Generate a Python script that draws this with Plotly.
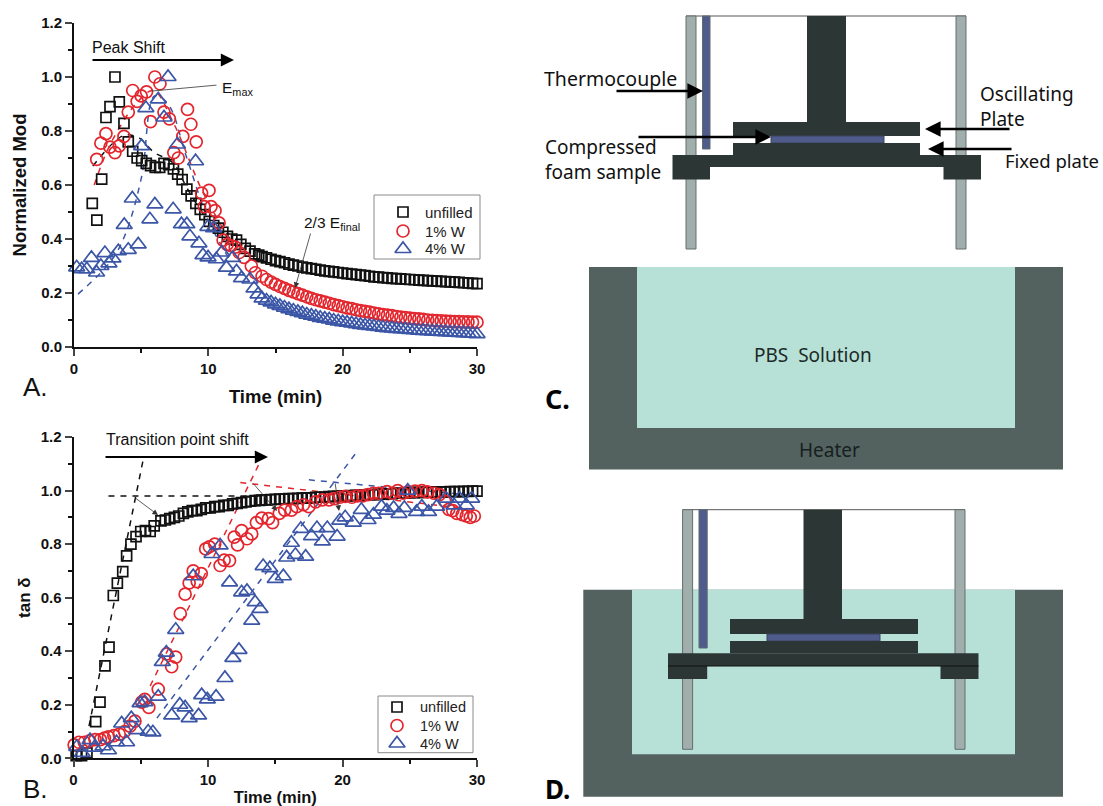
import plotly.graph_objects as go

# ---------- Shared late-time axis (min) ----------
time_late = [14.0,14.33,14.67,15.0,15.33,15.67,16.0,16.33,16.67,17.0,17.33,17.67,18.0,18.33,18.67,
             19.0,19.33,19.67,20.0,20.33,20.67,21.0,21.33,21.67,22.0,22.33,22.67,23.0,23.33,23.67,
             24.0,24.33,24.67,25.0,25.33,25.67,26.0,26.33,26.67,27.0,27.33,27.67,28.0,28.33,28.67,
             29.0,29.33,29.67,30.0]

# ---------- Panel A: normalized modulus ----------
a_unfilled_t = [1.36,1.7,2.06,2.38,2.68,3.05,3.37,3.72,4.04,4.37,4.7,5.04,5.38,5.7,6.05,6.38,6.7,7.05,7.4,7.72,
                8.05,8.4,8.72,9.07,9.4,9.74,10.07,10.4,10.75,11.08,11.42,11.75,12.1,12.42,12.75,13.1,13.45,13.75]
a_unfilled_y = [.532,.47,.622,.85,.89,1.0,.908,.828,.76,.725,.70,.69,.68,.672,.665,.665,.68,.675,.66,.64,
                .62,.585,.56,.532,.51,.49,.465,.45,.44,.425,.41,.40,.396,.38,.365,.355,.345,.34]
a_unfilled_late = [.335,.33,.325,.32,.316,.312,.307,.303,.30,.296,.293,.29,.288,.285,.282,.28,.278,.276,.274,.272,.27,
                   .268,.266,.264,.262,.26,.259,.257,.256,.254,.253,.252,.251,.25,.249,.248,.247,.246,.245,.244,.243,.242,
                   .241,.24,.239,.238,.237,.236,.235]

a_w1_t = [1.69,2.0,2.38,2.68,3.05,3.37,3.72,4.04,4.37,4.7,5.0,5.4,5.7,6.02,6.4,6.7,7.1,7.43,7.76,8.1,8.45,8.7,9.1,
          9.5,9.7,10.05,10.2,10.5,10.8,11.1,11.4,11.7,12.0,12.3,12.66,13.2,13.5]
a_w1_y = [.695,.755,.79,.74,.72,.745,.78,.87,.95,.91,.93,.945,.835,1.0,.975,.87,.845,.72,.70,.78,.88,.825,.76,
          .57,.52,.58,.52,.505,.46,.396,.38,.375,.37,.35,.332,.30,.275]
a_w1_late = [.262,.25,.24,.232,.224,.217,.21,.204,.198,.192,.186,.18,.175,.171,.166,.162,.157,.153,.149,.145,.142,
             .138,.135,.132,.129,.126,.123,.12,.118,.116,.113,.111,.109,.107,.105,.104,.102,.10,.099,.098,.097,.096,
             .095,.094,.094,.093,.093,.092,.092]

a_w4_t = [.2,.57,.95,1.3,1.68,2.0,2.3,2.6,2.9,3.3,3.74,4.04,4.34,4.78,5.03,5.35,5.65,6.02,6.27,6.7,7.0,7.38,7.7,8.0,8.4,
          8.63,9.05,9.3,9.6,9.97,9.98,10.4,10.6,11.0,11.35,11.8,12.1,12.47,13.1,13.4,13.7]
a_w4_y = [.295,.288,.288,.33,.276,.30,.348,.31,.328,.355,.452,.36,.55,.38,.744,.885,.473,.528,.917,.85,1.0,.51,.75,.455,.455,
          .41,.688,.384,.34,.445,.332,.44,.325,.35,.294,.33,.28,.255,.25,.217,.195]
a_w4_late = [.18,.172,.165,.158,.152,.146,.14,.135,.13,.125,.12,.116,.112,.108,.105,.102,.098,.095,.092,.09,.087,
             .085,.082,.08,.078,.076,.074,.072,.07,.069,.067,.066,.065,.063,.062,.061,.06,.059,.058,.057,.056,.055,
             .054,.053,.052,.051,.05,.049,.048]

fit_a_black_t = [1.4,2.9,3.8,4.9,5.9,7.4,8.4,10.0,12.0]
fit_a_black_y = [.67,.755,.785,.773,.723,.68,.59,.47,.39]
fit_a_red_t = [1.5,2.5,3.6,4.6,5.9,7.4,9.4,10.5,11.8]
fit_a_red_y = [.60,.73,.83,.90,.95,.83,.594,.49,.38]
fit_a_blue_t = [.3,2.7,3.8,5.03,6.0,7.0,8.4,10.0,11.5]
fit_a_blue_y = [.196,.315,.415,.63,.93,.90,.70,.47,.33]

# ---------- Panel B: tan delta ----------
b_unfilled_t = [.2,.6,1.0,1.65,1.97,2.34,2.64,2.96,3.26,3.66,3.95,4.27,4.65,5.0,5.35,5.7,6.0,6.5,6.83,7.16,7.5,7.83,
                8.17,8.5,8.83,9.17,9.5,9.83,10.17,10.5,10.83,11.17,11.5,11.83,12.17,12.5,12.83,13.17,13.5,13.83]
b_unfilled_y = [.01,.01,.02,.137,.21,.345,.415,.608,.654,.697,.756,.80,.828,.847,.85,.847,.868,.887,.89,.895,.90,.905,
                .915,.92,.925,.925,.93,.935,.935,.94,.94,.945,.945,.95,.952,.955,.958,.96,.962,.963]
b_unfilled_late = [.964,.965,.966,.967,.968,.968,.97,.97,.971,.972,.973,.973,.975,.975,.976,.977,.978,.978,.98,.98,.981,
                   .982,.983,.983,.985,.985,.986,.987,.988,.988,.99,.99,.99,.992,.992,.993,.993,.994,.994,.995,.995,.995,
                   .996,.996,.996,.997,.997,.998,.998]

b_w1_t = [.05,.4,.8,1.2,1.6,2.0,2.3,2.6,3.0,3.4,3.8,4.2,4.57,5.07,5.3,5.6,6.3,6.93,7.3,7.6,7.94,8.3,8.6,8.9,9.2,9.5,9.83,
          10.1,10.5,10.9,11.2,11.6,11.95,12.2,12.5,12.9,13.25,13.6,14.0,14.5,14.8,15.3,15.7,16.2,16.6,17.1,17.5,18.0,18.5,
          19.0,19.4,19.8,20.2,20.7,21.1,21.5,21.9,22.3,22.7,23.3,23.7,24.1,24.5,24.9,25.4,25.9,26.3,26.8,27.2,27.6,27.9,
          28.2,28.5,28.9,29.2,29.5,29.8]
b_w1_y = [.05,.06,.06,.065,.07,.07,.075,.08,.085,.09,.10,.12,.139,.21,.22,.19,.258,.39,.342,.378,.54,.613,.655,.70,.66,.69,.782,
          .79,.80,.72,.74,.738,.826,.797,.85,.82,.838,.88,.897,.895,.88,.915,.927,.927,.94,.947,.94,.958,.965,
          .965,.97,.975,.978,.975,.98,.98,.985,.99,.99,.996,.99,1.0,.99,.995,.998,1.0,.995,.99,.985,.96,.93,
          .925,.915,.91,.905,.90,.905]

b_w4_t = [.24,.65,1.23,1.55,2.2,2.6,3.2,3.58,3.95,4.3,4.7,4.95,5.3,5.55,5.9,6.3,6.6,6.9,7.3,7.6,7.9,8.3,8.6,8.9,9.3,9.53,9.95,
          10.3,10.6,10.9,11.26,11.6,11.85,12.3,12.5,12.9,13.25,13.5,13.87,14.1,14.6,15.0,15.6,15.85,16.2,16.5,16.9,17.26,17.7,
          18.1,18.5,18.87,19.6,19.8,20.2,20.8,21.4,21.9,22.3,22.9,23.3,23.8,24.2,24.6,24.85,25.5,25.9,26.4,27.0,27.7,28.3,28.7,29.2,29.6]
b_w4_y = [.043,.02,.068,.04,.045,.03,.06,.13,.06,.15,.105,.206,.21,.10,.097,.23,.36,.395,.16,.48,.20,.19,.15,.68,.16,.236,.22,
          .763,.23,.795,.30,.657,.375,.405,.62,.625,.514,.583,.558,.718,.71,.67,.68,.75,.805,.76,.857,.753,.83,
          .86,.81,.86,.828,.888,.90,.88,.928,.89,.91,.94,.925,.935,.913,.935,1.0,.92,.94,.92,.94,.97,.945,.97,.945,.97]

fit_b_black_steep_t = [1.15,5.2]
fit_b_black_steep_y = [.12,1.12]
fit_b_black_flat_t = [2.6,14.0]
fit_b_black_flat_y = [.98,.98]
fit_b_red_steep_t = [5.7,14.0]
fit_b_red_steep_y = [.27,1.12]
fit_b_red_flat_t = [12.4,29.7]
fit_b_red_flat_y = [1.03,.93]
fit_b_blue_steep_t = [6.2,21.0]
fit_b_blue_steep_y = [.15,1.14]
fit_b_blue_flat_t = [17.5,30.2]
fit_b_blue_flat_y = [1.04,.98]

legend_names = ["unfilled", "1% W", "4% W"]
xticks = [0, 10, 20, 30]
yticks = [0.0, 0.2, 0.4, 0.6, 0.8, 1.0, 1.2]

BLACK, RED, BLUE = "#111111", "#e3262d", "#3b56a6"
COLORS = [BLACK, RED, BLUE]
SYMBOLS = ["square-open", "circle-open", "triangle-up-open"]
SIZES = [10, 12, 14]
W, H = 1103, 806
TXT = "Liberation Sans"
DIA = "Noto Sans"
DARK, POLE, SAMPLE, WALL, LIQ = "#2c3635", "#a0aeac", "#4e5b8b", "#53625f", "#b7e0d6"

def px(x): return x / W
def py(y): return 1 - y / H

fig = go.Figure()

def scatter(t, y, i, xa, ya):
    fig.add_trace(go.Scatter(x=t, y=y, mode="markers", name=legend_names[i], xaxis=xa, yaxis=ya, showlegend=False,
                             cliponaxis=False,
                             marker=dict(symbol=SYMBOLS[i], size=SIZES[i], color=COLORS[i],
                                         line=dict(color=COLORS[i], width=1.7))))

def fit(t, y, color, xa, ya, smooth=False):
    fig.add_trace(go.Scatter(x=t, y=y, mode="lines", showlegend=False, xaxis=xa, yaxis=ya, cliponaxis=False,
                             line=dict(color=color, width=1.5, dash="6px,6px", shape="spline" if smooth else "linear")))

fit(fit_a_black_t, fit_a_black_y, BLACK, "x", "y", True)
fit(fit_a_red_t, fit_a_red_y, RED, "x", "y", True)
fit(fit_a_blue_t, fit_a_blue_y, BLUE, "x", "y", True)
scatter(a_unfilled_t + time_late, a_unfilled_y + a_unfilled_late, 0, "x", "y")
scatter(a_w1_t + time_late, a_w1_y + a_w1_late, 1, "x", "y")
scatter(a_w4_t + time_late, a_w4_y + a_w4_late, 2, "x", "y")

fit(fit_b_black_steep_t, fit_b_black_steep_y, BLACK, "x2", "y2")
fit(fit_b_black_flat_t, fit_b_black_flat_y, BLACK, "x2", "y2")
fit(fit_b_red_steep_t, fit_b_red_steep_y, RED, "x2", "y2")
fit(fit_b_red_flat_t, fit_b_red_flat_y, RED, "x2", "y2")
fit(fit_b_blue_steep_t, fit_b_blue_steep_y, BLUE, "x2", "y2")
fit(fit_b_blue_flat_t, fit_b_blue_flat_y, BLUE, "x2", "y2")
scatter(b_unfilled_t + time_late, b_unfilled_y + b_unfilled_late, 0, "x2", "y2")
scatter(b_w1_t, b_w1_y, 1, "x2", "y2")
scatter(b_w4_t, b_w4_y, 2, "x2", "y2")

shapes, annotations = [], []

def rect(x0, y0, x1, y1, fill, line=None):
    shapes.append(dict(type="rect", xref="paper", yref="paper", x0=px(x0), x1=px(x1), y0=py(y0), y1=py(y1),
                       fillcolor=fill, line=dict(color=line or fill, width=1 if line else 0), layer="below"))

def hline(x0, x1, y, color="#555555", width=1):
    shapes.append(dict(type="line", xref="paper", yref="paper", x0=px(x0), x1=px(x1), y0=py(y), y1=py(y),
                       line=dict(color=color, width=width), layer="below"))

def text(x, y, s, size, font=TXT, anchor="left", bold=False, color="#111111"):
    annotations.append(dict(xref="paper", yref="paper", x=px(x), y=py(y), text=s, showarrow=False,
                            xanchor=anchor, yanchor="middle", align=anchor,
                            font=dict(family=font, size=size, color=color, weight="bold" if bold else "normal")))

def arrow(x0, y0, x1, y1, color="#000000", width=2.2, head=2, size=1.1):
    annotations.append(dict(xref="paper", yref="paper", x=px(x1), y=py(y1), ax=x0 - x1, ay=y0 - y1,
                            axref="pixel", ayref="pixel", text="", showarrow=True, arrowhead=head,
                            arrowsize=size, arrowwidth=width, arrowcolor=color, standoff=0))

def legend_block(x0, y0, x1, y1, key_x, text_x, rows, size):
    rect(x0, y0, x1, y1, "#ffffff", "#8a8a8a")
    for i, row in enumerate(rows):
        text(text_x, row, legend_names[i], size, color="#222222")
        fig.add_trace(go.Scatter(x=[key_x], y=[row], mode="markers", showlegend=False, hoverinfo="skip",
                                 xaxis="x3", yaxis="y3", cliponaxis=False,
                                 marker=dict(symbol=SYMBOLS[i], size=SIZES[i], color=COLORS[i],
                                             line=dict(color=COLORS[i], width=1.7))))

legend_block(374, 195, 480, 259, 403, 423, [212, 231, 249], 15)
legend_block(378, 696, 473, 752.7, 397, 418, [707, 725.5, 743.5], 14.5)

def rig(tc, pl, pr, th0, th1, st0, st1, pl0, pl1, sm0, sm1, b0, b1, ytop, ybot, ystem, ytp, ysm, ylp, ybase, yfoot, fr0):
    hline(pl, pr + 10, ytop)
    rect(pl, ytop, pl + 10, ybot, POLE, "#666f6e")
    rect(pr, ytop, pr + 10, ybot, POLE, "#666f6e")
    rect(th0, ytop, th1, tc, SAMPLE, "#5f6b73")
    rect(st0, ytop, st1, ystem, DARK)
    rect(pl0, ystem, pl1, ytp, DARK)
    rect(sm0, ytp, sm1, ysm, SAMPLE, "#3c4560")
    rect(pl0, ysm, pl1, ylp, DARK)
    rect(b0, ylp, b1, ybase, DARK)
    rect(b0, ybase, th1, yfoot, DARK)
    rect(fr0, ybase, b1, yfoot, DARK)

# Diagram top
rig(149, 686, 956, 702.5, 710, 807, 846, 733, 920, 771, 884, 672.5, 981,
    16, 249, 122, 136, 143, 155, 167, 179.5, 943.5)
# Diagram C
rect(589, 267, 1063, 469.5, WALL)
rect(637, 267, 1015, 428, LIQ)
# Diagram D
rect(583.3, 589.7, 1063, 796.7, WALL)
rect(632, 589.7, 1015, 754.3, LIQ)
rig(648, 682.6, 955, 699, 707.2, 803.5, 842, 730, 918, 767, 880, 668, 978.5,
    509.7, 749.3, 619, 634, 641, 653.3, 666, 679, 940.5)
hline(668, 978.5, 666, "#111111", 1)

text(542, 78, "Thermocouple", 19.5, DIA)
text(543, 159.5, "Compressed<br>foam sample", 19, DIA)
text(978, 107, "Oscillating<br>Plate", 19, DIA)
text(1003, 161, "Fixed plate", 18.5, DIA)
text(813, 355, "PBS  Solution", 19, DIA, "center", color="#1c2a28")
text(829, 450, "Heater", 19, DIA, "center", color="#16201f")
text(543, 398, "C.", 27, DIA, bold=True, color="#000000")
text(543, 789, "D.", 26, DIA, bold=True, color="#000000")
text(21, 387, "A.", 26, TXT)
text(21, 789, "B.", 26, TXT)
text(90, 47, "Peak Shift", 16)
text(104, 439, "Transition point shift", 16)
text(220, 88, "E<sub>max</sub>", 15.5)
text(302, 224, "2/3 E<sub>final</sub>", 15.5)

arrow(91, 60, 234, 60, size=1.2)
arrow(104, 457, 268, 457, size=1.2)
arrow(615, 91, 703, 91, size=1.3, width=2.4)
arrow(637, 137, 771, 137, size=1.3, width=2.4)
arrow(1011, 129, 925, 129, size=1.3, width=2.4)
arrow(1013, 149, 928, 149, size=1.3, width=2.4)
arrow(218, 85, 152, 91, "#333333", 0.8, 0)
arrow(311, 232, 295, 288, "#333333", 0.8, 2, 1.4)
arrow(134, 497, 158, 515, "#333333", 0.8, 2, 1.4)
arrow(252, 482, 277, 511, "#333333", 0.8, 2, 1.4)
arrow(335, 482, 339, 511, "#333333", 0.8, 2, 1.4)

def xax(dom, anchor, title, tsize, standoff):
    return dict(domain=dom, range=[0, 30], anchor=anchor, tickmode="array", tickvals=xticks, ticktext=[str(v) for v in xticks],
                ticks="outside", ticklen=7, tickwidth=2, showline=True, linewidth=2, linecolor="#111111",
                showgrid=False, zeroline=False, tickfont=dict(family=TXT, size=15, color="#111111", weight="bold"),
                minor=dict(dtick=5, ticks="outside", ticklen=4, tickwidth=1.5, tickcolor="#111111"),
                title=dict(text=title, standoff=standoff, font=dict(family=TXT, size=tsize, color="#111111", weight="bold")))

def yax(dom, anchor, title, tsize, standoff):
    return dict(domain=dom, range=[0, 1.2], anchor=anchor, tickmode="array", tickvals=yticks,
                ticktext=[f"{v:.1f}" for v in yticks], ticks="outside", ticklen=7, tickwidth=2, showline=True,
                linewidth=2, linecolor="#111111", showgrid=False, zeroline=False,
                tickfont=dict(family=TXT, size=15, color="#111111", weight="bold"),
                minor=dict(dtick=0.1, ticks="outside", ticklen=4, tickwidth=1.5, tickcolor="#111111"),
                title=dict(text=title, standoff=standoff, font=dict(family=TXT, size=tsize, color="#111111", weight="bold")))

fig.update_layout(
    width=W, height=H, margin=dict(l=0, r=0, t=0, b=0, autoexpand=False), paper_bgcolor="#ffffff", plot_bgcolor="rgba(0,0,0,0)",
    showlegend=False,
    xaxis=xax([px(74), px(477)], "y", "Time (min)", 18.5, 14),
    yaxis=yax([py(347), py(23)], "x", "Normalized Mod", 18.5, 10),
    xaxis2=xax([px(73.5), px(477)], "y2", "Time (min)", 16.5, 10),
    yaxis2=yax([py(758.3), py(437)], "x2", "tan δ", 17, 6),
    xaxis3=dict(domain=[0, 1], range=[0, W], visible=False, anchor="y3"),
    yaxis3=dict(domain=[0, 1], range=[H, 0], visible=False, anchor="x3"),
    shapes=shapes, annotations=annotations,
)
fig.write_html("out.html", config=dict(displayModeBar=False),
               post_script="document.body.style.margin='0';document.documentElement.style.overflow='hidden';")
